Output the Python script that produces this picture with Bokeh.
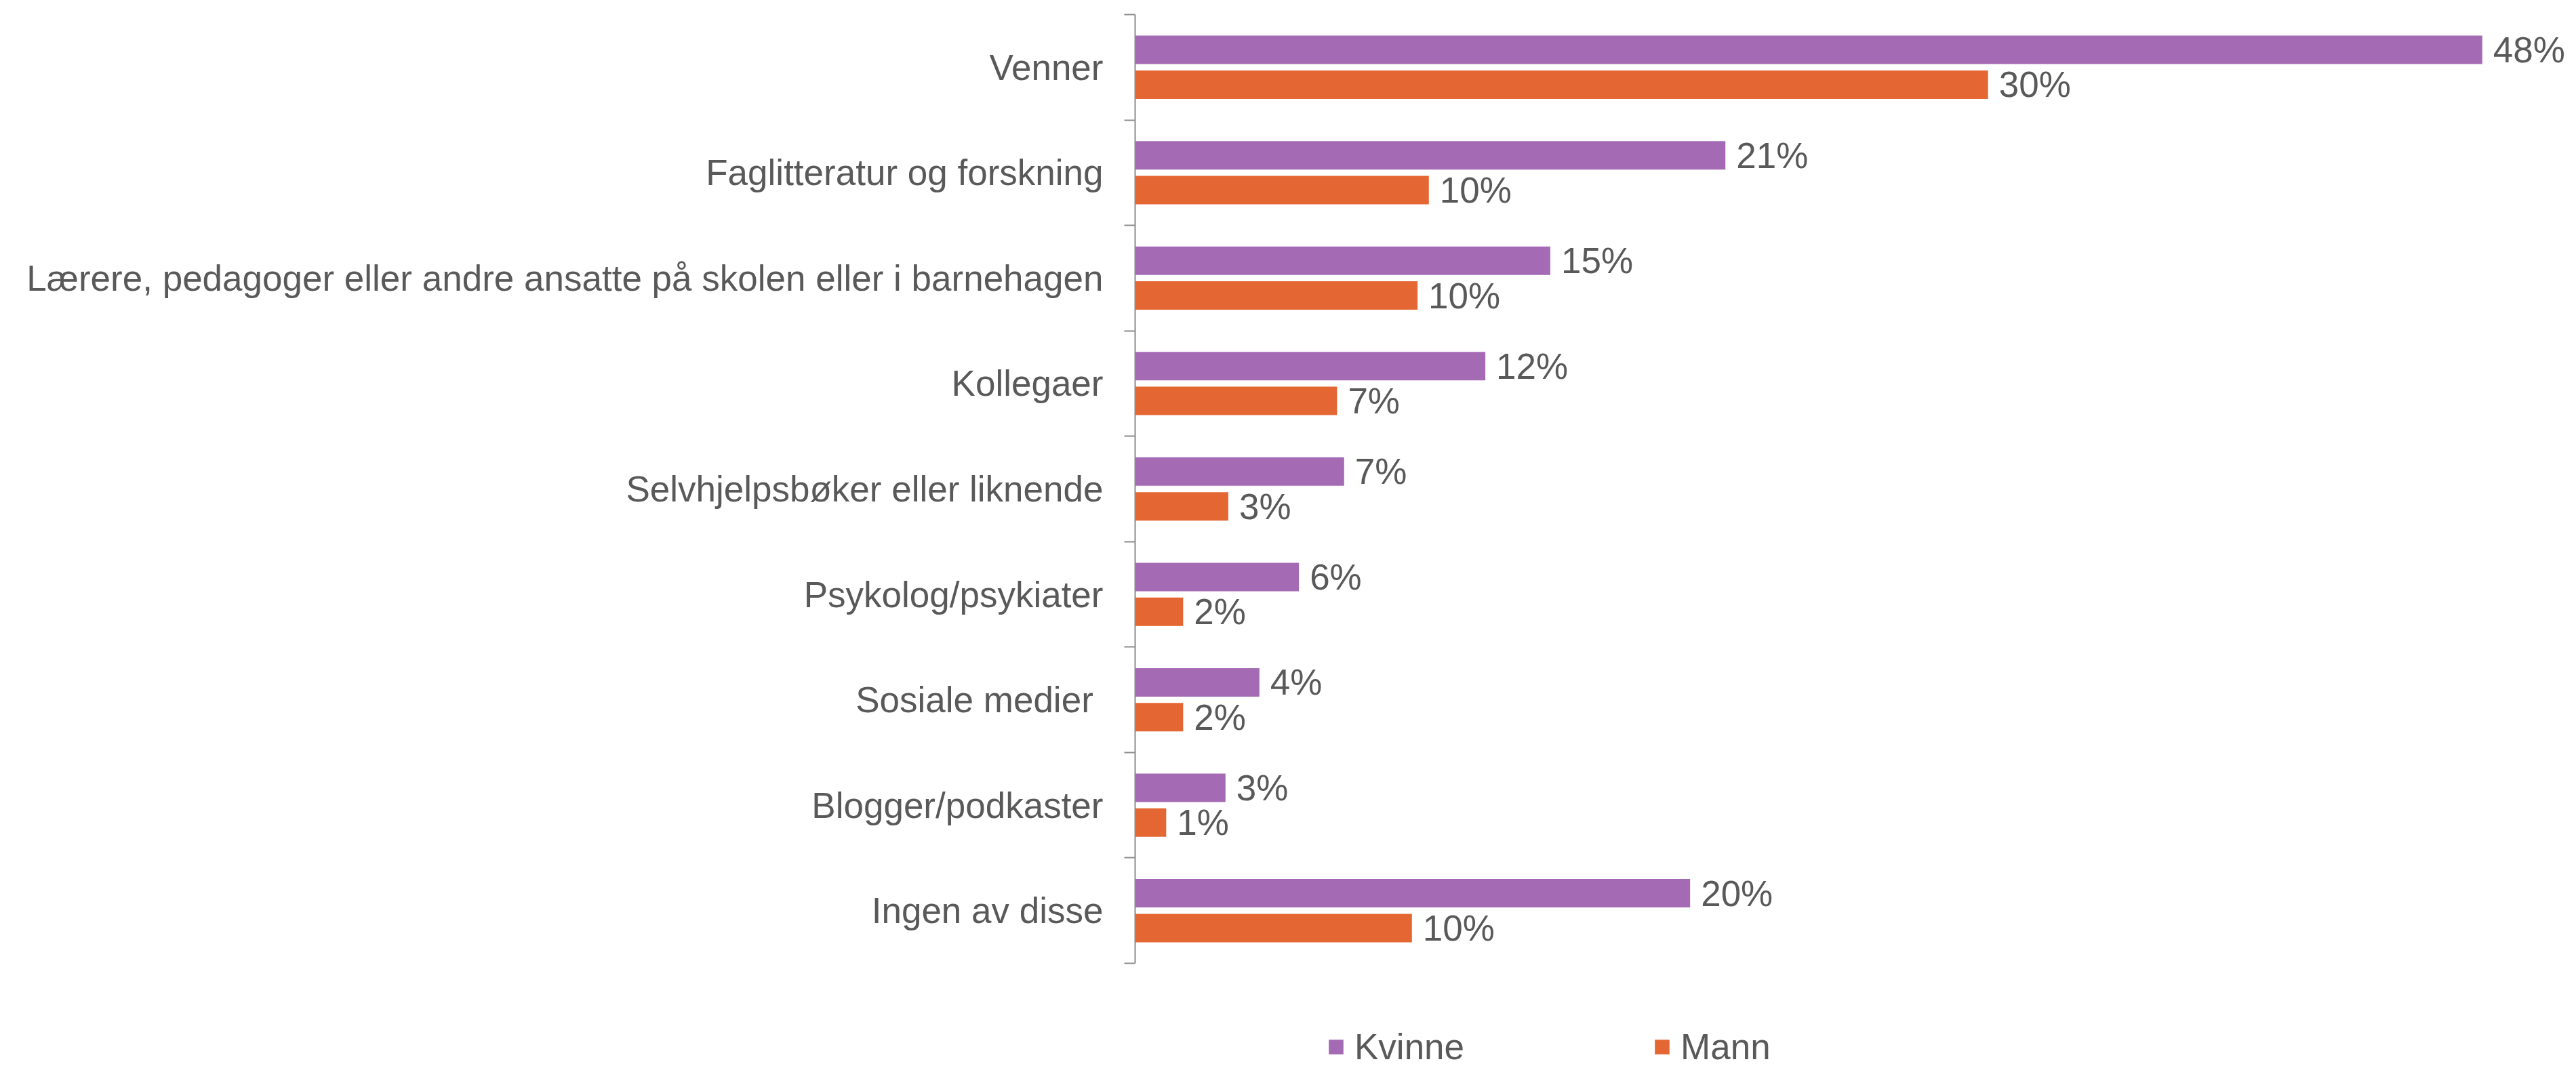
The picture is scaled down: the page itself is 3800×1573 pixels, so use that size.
from bokeh.plotting import figure
from bokeh.models import (Range1d, FixedTicker, ColumnDataSource, Legend, LegendItem)
from bokeh.core.properties import value
from bokeh.embed import file_html
from bokeh.resources import INLINE

categories = [
    "Venner",
    "Faglitteratur og forskning",
    "Lærere, pedagoger eller andre ansatte på skolen eller i barnehagen",
    "Kollegaer",
    "Selvhjelpsbøker eller liknende",
    "Psykolog/psykiater",
    "Sosiale medier ",
    "Blogger/podkaster",
    "Ingen av disse",
]
kvinne = [47.7, 20.9, 14.7, 12.4, 7.4, 5.8, 4.4, 3.2, 19.65]
mann = [30.2, 10.4, 10.0, 7.15, 3.3, 1.7, 1.7, 1.1, 9.8]
series_names = ["Kvinne", "Mann"]
colors = ["#A46AB4", "#E46633"]

TXT = "#595959"
FONT = "Liberation Sans"
n = len(categories)
centers = [n - i - 0.5 for i in range(n)]
off = 0.165

p = figure(width=3800, height=1573, output_backend="svg", toolbar_location=None,
           x_range=Range1d(0, 51.03), y_range=Range1d(-0.977, n),
           x_axis_location=None, min_border_left=1674, min_border_right=0,
           min_border_top=21, min_border_bottom=0)
p.grid.visible = False
p.outline_line_color = None

renderers = []
for vals, d, col, name in [(kvinne, off, colors[0], series_names[0]),
                           (mann, -off, colors[1], series_names[1])]:
    ys = [c + d for c in centers]
    src = ColumnDataSource(dict(y=ys, v=vals, lab=[f"{round(v)}%" for v in vals]))
    r = p.hbar(y="y", right="v", left=0, height=0.27, source=src,
               fill_color=col, line_color=None)
    p.text(x="v", y="y", text="lab", source=src, x_offset=16,
           text_baseline="middle", text_align="left",
           text_font=value(FONT), text_font_size="53px", text_color=TXT)
    renderers.append((name, r))

ax = p.yaxis[0]
ax.bounds = (0, n)
ax.ticker = FixedTicker(ticks=centers, minor_ticks=list(range(n + 1)))
ax.major_label_overrides = {c: categories[i] for i, c in enumerate(centers)}
ax.major_tick_out = 0
ax.major_tick_in = 0
ax.minor_tick_out = 16
ax.minor_tick_in = 0
ax.minor_tick_line_color = "#8C8C8C"
ax.minor_tick_line_width = 2
ax.axis_line_color = "#8C8C8C"
ax.axis_line_width = 2
ax.major_label_standoff = 31
ax.major_label_text_font = FONT
ax.major_label_text_font_size = "53px"
ax.major_label_text_color = TXT

legend = Legend(items=[LegendItem(label=nm, renderers=[r]) for nm, r in renderers],
                orientation="horizontal", location=(283, -2),
                glyph_width=27, glyph_height=27, label_height=27,
                label_standoff=14, spacing=278, padding=0, margin=0,
                border_line_color=None, background_fill_alpha=0,
                label_text_font=FONT, label_text_font_size="53px",
                label_text_color=TXT)
p.add_layout(legend, "center")

open("out.html", "w").write(file_html(p, INLINE))
